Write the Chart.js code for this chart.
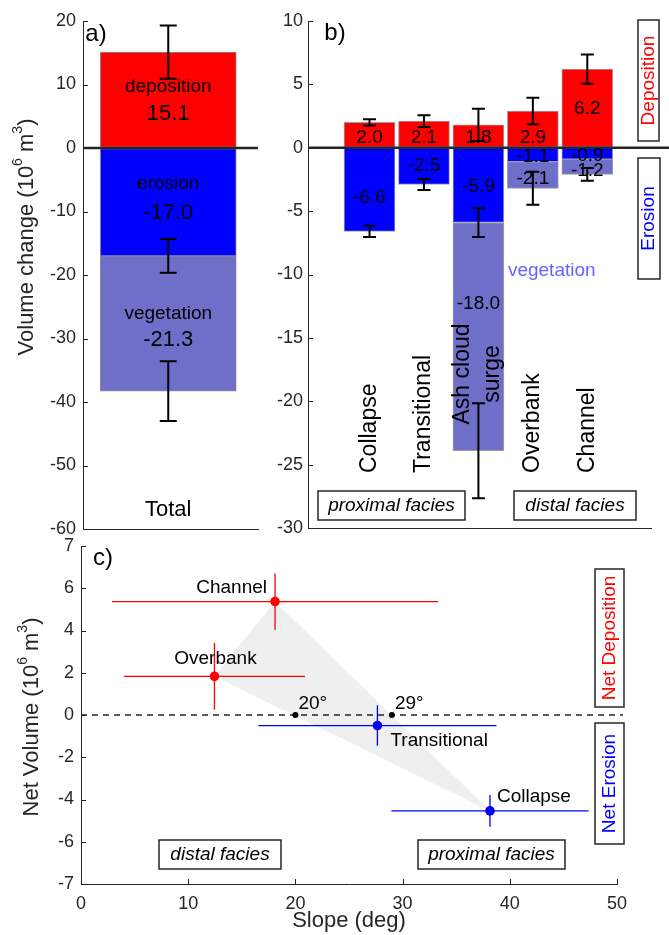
<!DOCTYPE html>
<html><head><meta charset="utf-8">
<style>
html,body{margin:0;padding:0;background:#fff;width:669px;height:935px;overflow:hidden}
canvas{position:absolute;left:0;top:0}
</style>
<script src="https://cdn.jsdelivr.net/npm/chart.js@4/dist/chart.umd.min.js"></script>
</head><body>
<canvas id="ca" width="669" height="935"></canvas>
<canvas id="cb" width="669" height="935"></canvas>
<canvas id="cc" width="669" height="935"></canvas>
<script>
// ---------------- DATA ----------------
// a) total
const TOTAL_CATEGORY = ['Total'];
const TOTAL_DEPOSITION = [15.1];
const TOTAL_EROSION = [-17.0];
const TOTAL_VEGETATION = [-21.3];
const TOTAL_DEP_ERR = [4.2];
const TOTAL_ERO_ERR = [2.65];
const TOTAL_VEG_ERR = [4.7];
const TOTAL_DEP_TEXT = ['15.1'];
const TOTAL_ERO_TEXT = ['-17.0'];
const TOTAL_VEG_TEXT = ['-21.3'];
const A_TICKS = [20, 10, 0, -10, -20, -30, -40, -50, -60];

// b) by facies
const FACIES = ['Collapse', 'Transitional', 'Ash cloud\nsurge', 'Overbank', 'Channel'];
const FACIES_DEPOSITION = [2.0, 2.1, 1.8, 2.9, 6.2];
const FACIES_EROSION = [-6.6, -2.9, -5.9, -1.1, -0.9];
const FACIES_VEGETATION = [null, null, -18.0, -2.1, -1.2];
const FACIES_DEP_ERR = [0.25, 0.47, 1.27, 1.05, 1.15];
const FACIES_ERO_ERR = [0.45, 0.43, 1.15, null, null];
const FACIES_VEG_ERR = [null, null, 3.75, 1.3, 0.5];
const FACIES_DEP_TEXT = ['2.0', '2.1', '1.8', '2.9', '6.2'];
const FACIES_ERO_TEXT = ['-6.6', '-2.5', '-5.9', '-1.1', '-0.9'];
const FACIES_VEG_TEXT = [null, null, '-18.0', '-2.1', '-1.2'];
const B_TICKS = [10, 5, 0, -5, -10, -15, -20, -25, -30];

// c) net volume vs slope
const NET_FACIES = ['Channel', 'Overbank', 'Transitional', 'Collapse'];
const NET_SLOPE = [18.1, 12.45, 27.65, 38.15];
const NET_SLOPE_ERR = [15.2, 8.45, 11.1, 9.2];
const NET_VOLUME = [5.37, 1.83, -0.5, -4.54];
const NET_VOLUME_ERR = [1.33, 1.58, 0.96, 0.75];
const TRIANGLE_FACIES = ['Channel', 'Overbank', 'Collapse'];
const CROSSING_SLOPE = [20, 29];
const CROSSING_TEXT = ['20°', '29°'];
const C_X_TICKS = [0, 10, 20, 30, 40, 50];
const C_Y_TICK_VALUES = [8, 6, 4, 2, 0, -2, -4, -6, -8];
const C_Y_TICK_LABELS = ['7', '6', '4', '2', '0', '-2', '-4', '-6', '-7'];

// ---------------- STYLE / ANNOTATION PLACEMENT ----------------
const FONT = "'Liberation Sans', Arial, Helvetica, sans-serif";
const INK = '#262626';
const RED = '#ff0000', BLUE = '#0000ff', VEG = '#6f6fca', VEGTXT = '#6464ff';
Chart.defaults.font.family = FONT;
Chart.defaults.color = INK;

// label anchors (data units on the value axis)
const A_ANCHOR = {depWord: 9.6, depNum: 5.35, eroWord: -5.7, eroNum: -10.2, vegWord: -26.1, vegNum: -30.2, total: -57.0};
const B_ANCHOR = {
  dep: [0.77, 0.77, 0.77, 0.77, 3.1],
  ero: [-3.97, -1.44, -3.1, -0.75, -0.65],
  veg: [null, null, -12.3, -2.41, -1.83],
  vegWord: -9.72
};

function txt(ctx, s, x, y, o = {}) {
  ctx.save();
  ctx.font = (o.italic ? 'italic ' : '') + (o.size || 19) + 'px ' + FONT;
  ctx.fillStyle = o.color || '#000';
  ctx.textAlign = o.align || 'center';
  ctx.textBaseline = 'middle';
  ctx.translate(x, y);
  if (o.rot) ctx.rotate(o.rot);
  ctx.fillText(s, 0, 0);
  ctx.restore();
}
function supLabel(ctx, parts, x, y, size, rot) {
  ctx.save();
  ctx.translate(x, y);
  if (rot) ctx.rotate(rot);
  const big = size + 'px ' + FONT, small = Math.round(size * 0.65) + 'px ' + FONT;
  let w = 0;
  parts.forEach(p => { ctx.font = p.sup ? small : big; w += ctx.measureText(p.t).width; });
  let cx = -w / 2;
  ctx.fillStyle = INK;
  ctx.textAlign = 'left';
  ctx.textBaseline = 'middle';
  parts.forEach(p => {
    ctx.font = p.sup ? small : big;
    ctx.fillText(p.t, cx, p.sup ? -size * 0.38 : 0);
    cx += ctx.measureText(p.t).width;
  });
  ctx.restore();
}
function rectBox(ctx, x1, y1, x2, y2) {
  ctx.save(); ctx.strokeStyle = INK; ctx.lineWidth = 1.5;
  ctx.strokeRect(x1, y1, x2 - x1, y2 - y1); ctx.restore();
}
function vErr(ctx, x, ya, yb, cap, color, lw) {
  ctx.save(); ctx.strokeStyle = color; ctx.lineWidth = lw;
  ctx.beginPath();
  ctx.moveTo(x, ya); ctx.lineTo(x, yb);
  if (cap) { ctx.moveTo(x - cap, ya); ctx.lineTo(x + cap, ya); ctx.moveTo(x - cap, yb); ctx.lineTo(x + cap, yb); }
  ctx.stroke(); ctx.restore();
}
function inwardTicks(chart, doX) {
  const ctx = chart.ctx, ca = chart.chartArea;
  ctx.save(); ctx.strokeStyle = INK; ctx.lineWidth = 1;
  ctx.beginPath();
  chart.scales.y.ticks.forEach(t => {
    const py = Math.round(chart.scales.y.getPixelForValue(t.value)) + 0.5;
    ctx.moveTo(ca.left, py); ctx.lineTo(ca.left + 5, py);
  });
  if (doX) chart.scales.x.ticks.forEach(t => {
    const px = Math.round(chart.scales.x.getPixelForValue(t.value)) + 0.5;
    ctx.moveTo(px, ca.bottom); ctx.lineTo(px, ca.bottom - 5);
  });
  ctx.stroke(); ctx.restore();
}
function pts(cats, vals) { return cats.map((c, i) => ({x: i + 1, y: vals[i]})); }
function baseScales(fitW, fitH, yTicks, yMin, yMax, xMin, xMax, pad) {
  return {
    x: {type: 'linear', min: xMin, max: xMax, stacked: true,
        ticks: {display: false}, grid: {drawOnChartArea: false, drawTicks: false},
        border: {display: true, color: INK, width: 1}, afterFit(s) { s.height = fitH; }},
    y: {type: 'linear', min: yMin, max: yMax, stacked: true,
        afterBuildTicks(s) { s.ticks = yTicks.map(v => ({value: v})); },
        ticks: {color: INK, font: {size: 18}, padding: pad, callback: v => String(v)},
        grid: {drawOnChartArea: false, drawTicks: false},
        border: {display: true, color: INK, width: 1}, afterFit(s) { s.width = fitW; }}
  };
}
function stackEnds(dep, ero, veg, i) {
  const e = ero[i] || 0, v = veg[i] || 0;
  return {dep: dep[i], ero: e, veg: e + v};
}

// ---------------- PANEL A ----------------
new Chart(document.getElementById('ca'), {
  type: 'bar',
  data: {datasets: [
    {label: 'deposition', data: pts(TOTAL_CATEGORY, TOTAL_DEPOSITION), backgroundColor: RED},
    {label: 'erosion', data: pts(TOTAL_CATEGORY, TOTAL_EROSION), backgroundColor: BLUE},
    {label: 'vegetation', data: pts(TOTAL_CATEGORY, TOTAL_VEGETATION), backgroundColor: VEG}
  ]},
  options: {
    responsive: false, animation: false, devicePixelRatio: 1,
    layout: {padding: {left: 0, top: 21, right: 411, bottom: 406}},
    plugins: {legend: {display: false}, tooltip: {enabled: false}},
    datasets: {bar: {barThickness: 136, borderWidth: 1, borderColor: '#8c8c8c', borderSkipped: false}},
    scales: baseScales(83, 0, A_TICKS, -60, 20, 0.5, 1.54, 7)
  },
  plugins: [{
    id: 'annA',
    afterDraw(chart) {
      const ctx = chart.ctx, ca = chart.chartArea, xs = chart.scales.x, ys = chart.scales.y;
      inwardTicks(chart, false);
      // zero line
      ctx.save(); ctx.strokeStyle = INK; ctx.lineWidth = 2.5; ctx.beginPath();
      const z = ys.getPixelForValue(0); ctx.moveTo(ca.left, z); ctx.lineTo(ca.right, z); ctx.stroke(); ctx.restore();
      TOTAL_CATEGORY.forEach((c, i) => {
        const x = xs.getPixelForValue(i + 1);
        const e = stackEnds(TOTAL_DEPOSITION, TOTAL_EROSION, TOTAL_VEGETATION, i);
        [[e.dep, TOTAL_DEP_ERR[i]], [e.ero, TOTAL_ERO_ERR[i]], [e.veg, TOTAL_VEG_ERR[i]]].forEach(([c0, er]) => {
          if (er == null) return;
          vErr(ctx, x, ys.getPixelForValue(c0 + er), ys.getPixelForValue(c0 - er), 8.5, '#000', 2);
        });
        txt(ctx, 'deposition', x, ys.getPixelForValue(A_ANCHOR.depWord), {size: 19});
        txt(ctx, TOTAL_DEP_TEXT[i], x, ys.getPixelForValue(A_ANCHOR.depNum), {size: 22});
        txt(ctx, 'erosion', x, ys.getPixelForValue(A_ANCHOR.eroWord), {size: 19});
        txt(ctx, TOTAL_ERO_TEXT[i], x, ys.getPixelForValue(A_ANCHOR.eroNum), {size: 22});
        txt(ctx, 'vegetation', x, ys.getPixelForValue(A_ANCHOR.vegWord), {size: 19});
        txt(ctx, TOTAL_VEG_TEXT[i], x, ys.getPixelForValue(A_ANCHOR.vegNum), {size: 22});
        txt(ctx, c, x, ys.getPixelForValue(A_ANCHOR.total), {size: 22});
      });
      txt(ctx, 'a)', ca.left + 13, ca.top + 13, {size: 24, align: 'center'});
      supLabel(ctx, [{t: 'Volume change (10'}, {t: '6', sup: true}, {t: ' m'}, {t: '3', sup: true}, {t: ')'}],
        27, 237, 22, -Math.PI / 2);
    }
  }]
});

// ---------------- PANEL B ----------------
new Chart(document.getElementById('cb'), {
  type: 'bar',
  data: {datasets: [
    {label: 'Deposition', data: pts(FACIES, FACIES_DEPOSITION), backgroundColor: RED},
    {label: 'Erosion', data: pts(FACIES, FACIES_EROSION), backgroundColor: BLUE},
    {label: 'vegetation', data: pts(FACIES, FACIES_VEGETATION), backgroundColor: VEG}
  ]},
  options: {
    responsive: false, animation: false, devicePixelRatio: 1,
    layout: {padding: {left: 0, top: 21, right: 18, bottom: 407}},
    plugins: {legend: {display: false}, tooltip: {enabled: false}},
    datasets: {bar: {barThickness: 51, borderWidth: 1, borderColor: '#a0a0a0', borderSkipped: false}},
    scales: baseScales(308, 0, B_TICKS, -30, 10, 0.32, 5.72, 5)
  },
  plugins: [{
    id: 'annB',
    afterDraw(chart) {
      const ctx = chart.ctx, ca = chart.chartArea, xs = chart.scales.x, ys = chart.scales.y;
      inwardTicks(chart, false);
      ctx.save(); ctx.strokeStyle = INK; ctx.lineWidth = 2.5; ctx.beginPath();
      const z = ys.getPixelForValue(0); ctx.moveTo(ca.left, z); ctx.lineTo(chart.width, z); ctx.stroke(); ctx.restore();
      FACIES.forEach((c, i) => {
        const x = xs.getPixelForValue(i + 1);
        const e = stackEnds(FACIES_DEPOSITION, FACIES_EROSION, FACIES_VEGETATION, i);
        [[e.dep, FACIES_DEP_ERR[i]], [e.ero, FACIES_ERO_ERR[i]], [e.veg, FACIES_VEG_ERR[i]]].forEach(([c0, er]) => {
          if (er == null) return;
          vErr(ctx, x, ys.getPixelForValue(c0 + er), ys.getPixelForValue(c0 - er), 6.5, '#000', 2);
        });
        txt(ctx, FACIES_DEP_TEXT[i], x, ys.getPixelForValue(B_ANCHOR.dep[i]), {size: 19});
        txt(ctx, FACIES_ERO_TEXT[i], x, ys.getPixelForValue(B_ANCHOR.ero[i]), {size: 19});
        if (FACIES_VEG_TEXT[i]) txt(ctx, FACIES_VEG_TEXT[i], x, ys.getPixelForValue(B_ANCHOR.veg[i]), {size: 19});
        const lines = c.split('\n');
        if (lines.length === 1) {
          txt(ctx, c, x, 473, {size: 23, align: 'left', rot: -Math.PI / 2});
        } else {
          lines.forEach((l, k) => txt(ctx, l, x - 16 + k * 30, 374, {size: 23, align: 'center', rot: -Math.PI / 2}));
        }
      });
      const ashRight = xs.getPixelForValue(3) + 25.5;
      txt(ctx, 'vegetation', ashRight + 4, ys.getPixelForValue(B_ANCHOR.vegWord), {size: 19, align: 'left', color: VEGTXT});
      txt(ctx, 'b)', ca.left + 27, ca.top + 12, {size: 24});
      rectBox(ctx, 638, 20, 659, 141);
      txt(ctx, 'Deposition', 648.5, 80.5, {size: 19, color: RED, rot: -Math.PI / 2});
      rectBox(ctx, 638, 158, 660, 279);
      txt(ctx, 'Erosion', 649, 218.5, {size: 19, color: BLUE, rot: -Math.PI / 2});
      rectBox(ctx, 318, 491, 465, 520);
      txt(ctx, 'proximal facies', 391.5, 505.5, {size: 19, italic: true});
      rectBox(ctx, 514, 491, 636, 520);
      txt(ctx, 'distal facies', 575, 505.5, {size: 19, italic: true});
    }
  }]
});

// ---------------- PANEL C ----------------
const netColors = NET_VOLUME.map(v => v >= 0 ? RED : BLUE);
const LABEL_OFFSET = {
  Channel: {dx: -8, dy: -14, align: 'right'},
  Overbank: {dx: 1, dy: -18, align: 'center'},
  Transitional: {dx: 13, dy: 15, align: 'left'},
  Collapse: {dx: 7, dy: -14, align: 'left'}
};
new Chart(document.getElementById('cc'), {
  type: 'scatter',
  data: {datasets: [
    {label: 'facies', data: NET_FACIES.map((f, i) => ({x: NET_SLOPE[i], y: NET_VOLUME[i]})),
     pointRadius: 4.8, pointBackgroundColor: netColors, pointBorderWidth: 0, order: 1},
    {label: 'crossings', data: CROSSING_SLOPE.map(s => ({x: s, y: 0})),
     pointRadius: 3, pointBackgroundColor: '#000', pointBorderWidth: 0, order: 0}
  ]},
  options: {
    responsive: false, animation: false, devicePixelRatio: 1,
    layout: {padding: {left: 0, top: 546, right: 52, bottom: 0}},
    plugins: {legend: {display: false}, tooltip: {enabled: false}},
    scales: {
      x: {type: 'linear', min: 0, max: 50,
          afterBuildTicks(s) { s.ticks = C_X_TICKS.map(v => ({value: v})); },
          ticks: {color: INK, font: {size: 18}, padding: 9, maxRotation: 0},
          grid: {drawOnChartArea: false, drawTicks: false},
          border: {display: true, color: INK, width: 1}, afterFit(s) { s.height = 51; }},
      y: {type: 'linear', min: -8, max: 8,
          afterBuildTicks(s) { s.ticks = C_Y_TICK_VALUES.map(v => ({value: v})); },
          ticks: {color: INK, font: {size: 18}, padding: 7,
                  callback: v => C_Y_TICK_LABELS[C_Y_TICK_VALUES.indexOf(v)]},
          grid: {drawOnChartArea: false, drawTicks: false},
          border: {display: true, color: INK, width: 1}, afterFit(s) { s.width = 81; }}
    }
  },
  plugins: [{
    id: 'annC',
    beforeDatasetsDraw(chart) {
      const ctx = chart.ctx, ca = chart.chartArea, xs = chart.scales.x, ys = chart.scales.y;
      // shaded triangle
      ctx.save(); ctx.fillStyle = '#efefef'; ctx.beginPath();
      TRIANGLE_FACIES.forEach((f, k) => {
        const i = NET_FACIES.indexOf(f);
        const px = xs.getPixelForValue(NET_SLOPE[i]), py = ys.getPixelForValue(NET_VOLUME[i]);
        if (k === 0) ctx.moveTo(px, py); else ctx.lineTo(px, py);
      });
      ctx.closePath(); ctx.fill(); ctx.restore();
      // dashed zero line
      ctx.save(); ctx.strokeStyle = INK; ctx.lineWidth = 1.6; ctx.setLineDash([6, 5]);
      ctx.beginPath(); const z = ys.getPixelForValue(0);
      ctx.moveTo(ca.left, z); ctx.lineTo(ca.right + 6, z); ctx.stroke(); ctx.restore();
      // error bars
      NET_FACIES.forEach((f, i) => {
        const px = xs.getPixelForValue(NET_SLOPE[i]), py = ys.getPixelForValue(NET_VOLUME[i]);
        ctx.save(); ctx.strokeStyle = netColors[i]; ctx.lineWidth = 1.3; ctx.beginPath();
        ctx.moveTo(xs.getPixelForValue(NET_SLOPE[i] - NET_SLOPE_ERR[i]), py);
        ctx.lineTo(xs.getPixelForValue(NET_SLOPE[i] + NET_SLOPE_ERR[i]), py);
        ctx.moveTo(px, ys.getPixelForValue(NET_VOLUME[i] + NET_VOLUME_ERR[i]));
        ctx.lineTo(px, ys.getPixelForValue(NET_VOLUME[i] - NET_VOLUME_ERR[i]));
        ctx.stroke(); ctx.restore();
      });
    },
    afterDraw(chart) {
      const ctx = chart.ctx, ca = chart.chartArea, xs = chart.scales.x, ys = chart.scales.y;
      inwardTicks(chart, true);
      NET_FACIES.forEach((f, i) => {
        const o = LABEL_OFFSET[f];
        txt(ctx, f, xs.getPixelForValue(NET_SLOPE[i]) + o.dx, ys.getPixelForValue(NET_VOLUME[i]) + o.dy, {size: 19, align: o.align});
      });
      CROSSING_SLOPE.forEach((s, i) => {
        txt(ctx, CROSSING_TEXT[i], xs.getPixelForValue(s) + 3, ys.getPixelForValue(0) - 11, {size: 19, align: 'left'});
      });
      txt(ctx, 'c)', ca.left + 22, ca.top + 12, {size: 24});
      rectBox(ctx, 595, 569, 624, 707);
      txt(ctx, 'Net Deposition', 609.5, 638, {size: 19, color: RED, rot: -Math.PI / 2});
      rectBox(ctx, 595, 723, 624, 844);
      txt(ctx, 'Net Erosion', 609.5, 783.5, {size: 19, color: BLUE, rot: -Math.PI / 2});
      rectBox(ctx, 159, 840, 281, 869);
      txt(ctx, 'distal facies', 220, 854.5, {size: 19, italic: true});
      rectBox(ctx, 418, 840, 565, 869);
      txt(ctx, 'proximal facies', 491.5, 854.5, {size: 19, italic: true});
      supLabel(ctx, [{t: 'Net Volume (10'}, {t: '6', sup: true}, {t: ' m'}, {t: '3', sup: true}, {t: ')'}],
        32, 717, 22, -Math.PI / 2);
      txt(ctx, 'Slope (deg)', (ca.left + ca.right) / 2, 921, {size: 22, color: INK});
    }
  }]
});
</script>
</body></html>
